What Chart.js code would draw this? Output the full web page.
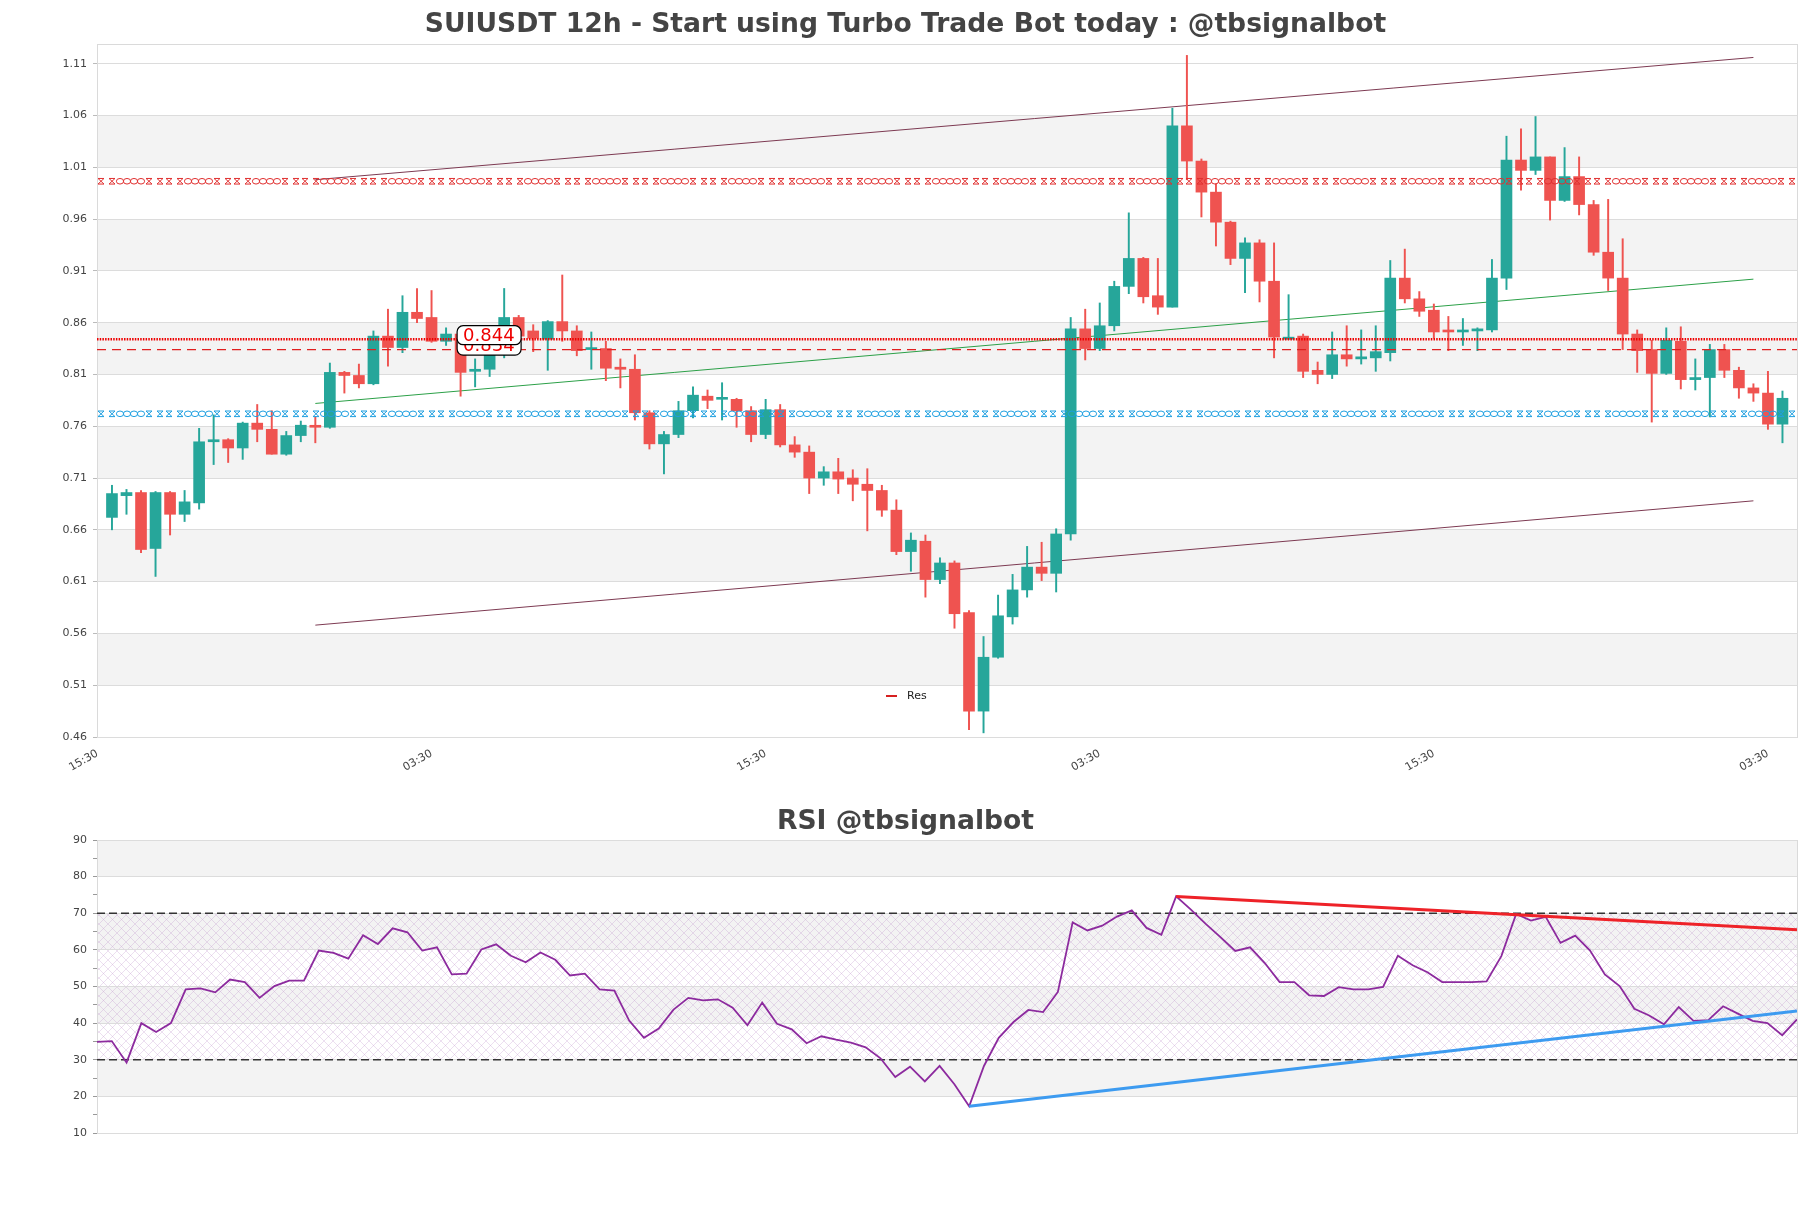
<!DOCTYPE html>
<html>
<head>
<meta charset="utf-8">
<script src="https://cdn.jsdelivr.net/npm/chart.js@4.4.1/dist/chart.umd.min.js"></script>
<style>
    body { margin: 0; background: #fff; }
    .title { position: absolute; left: 0; width: 1811px; text-align: center; font: bold 26.6px 'DejaVu Sans', sans-serif; color: #444; line-height: 30px; }
    .box { position: absolute; left: 0; width: 1811px; }
</style>
</head>
<body>
<div class="box" style="top:0;height:800px"><canvas id="main" width="1811" height="800"></canvas></div>
<div class="box" style="top:780px;height:428px"><canvas id="rsi" width="1811" height="428"></canvas></div>
<div class="title" style="top:8px">SUIUSDT 12h - Start using Turbo Trade Bot today : @tbsignalbot</div>
<div class="title" style="top:805px">RSI @tbsignalbot</div>
<script>
const candleOpen = [
    0.672, 0.693, 0.696, 0.642, 0.696, 0.675, 0.686, 0.745, 0.747, 0.739,
    0.763, 0.757, 0.733, 0.751, 0.760, 0.759, 0.812, 0.809, 0.801, 0.847,
    0.836, 0.870, 0.865, 0.842, 0.849, 0.813, 0.815, 0.829, 0.865, 0.852,
    0.844, 0.861, 0.852, 0.834, 0.835, 0.817, 0.815, 0.773, 0.743, 0.752,
    0.775, 0.789, 0.786, 0.786, 0.775, 0.752, 0.776, 0.742, 0.735, 0.710,
    0.716, 0.710, 0.704, 0.698, 0.679, 0.639, 0.649, 0.612, 0.628, 0.580,
    0.485, 0.537, 0.576, 0.602, 0.624, 0.618, 0.656, 0.854, 0.835, 0.857,
    0.895, 0.922, 0.886, 0.875, 1.050, 1.016, 0.986, 0.957, 0.922, 0.937,
    0.900, 0.844, 0.847, 0.814, 0.810, 0.829, 0.825, 0.826, 0.831, 0.903,
    0.883, 0.872, 0.852, 0.851, 0.852, 0.853, 0.903, 1.017, 1.007, 1.020,
    0.978, 1.001, 0.974, 0.928, 0.903, 0.849, 0.834, 0.811, 0.842, 0.805,
    0.807, 0.834, 0.814, 0.797, 0.792, 0.762
];
const candleHigh = [
    0.703, 0.699, 0.698, 0.697, 0.697, 0.698, 0.758, 0.771, 0.748, 0.764,
    0.781, 0.775, 0.755, 0.765, 0.769, 0.821, 0.813, 0.820, 0.852, 0.873,
    0.886, 0.893, 0.891, 0.855, 0.852, 0.825, 0.857, 0.893, 0.867, 0.858,
    0.862, 0.906, 0.857, 0.851, 0.842, 0.825, 0.829, 0.775, 0.755, 0.784,
    0.798, 0.795, 0.802, 0.787, 0.779, 0.786, 0.781, 0.750, 0.741, 0.721,
    0.729, 0.718, 0.719, 0.703, 0.689, 0.657, 0.655, 0.633, 0.630, 0.582,
    0.557, 0.597, 0.617, 0.644, 0.648, 0.661, 0.865, 0.873, 0.879, 0.900,
    0.966, 0.923, 0.922, 1.067, 1.118, 1.018, 0.994, 0.958, 0.942, 0.940,
    0.937, 0.887, 0.849, 0.822, 0.851, 0.857, 0.853, 0.857, 0.920, 0.931,
    0.890, 0.878, 0.866, 0.864, 0.855, 0.921, 1.040, 1.047, 1.059, 1.020,
    1.029, 1.020, 0.978, 0.979, 0.941, 0.853, 0.843, 0.855, 0.856, 0.825,
    0.839, 0.839, 0.817, 0.801, 0.813, 0.794
];
const candleLow = [
    0.660, 0.675, 0.638, 0.615, 0.655, 0.668, 0.680, 0.723, 0.725, 0.728,
    0.745, 0.733, 0.732, 0.745, 0.744, 0.758, 0.792, 0.797, 0.800, 0.818,
    0.831, 0.860, 0.841, 0.838, 0.789, 0.798, 0.808, 0.826, 0.845, 0.832,
    0.814, 0.842, 0.828, 0.815, 0.804, 0.797, 0.766, 0.738, 0.714, 0.749,
    0.768, 0.777, 0.766, 0.759, 0.745, 0.748, 0.740, 0.730, 0.695, 0.703,
    0.695, 0.688, 0.659, 0.673, 0.636, 0.620, 0.595, 0.608, 0.565, 0.467,
    0.464, 0.536, 0.569, 0.595, 0.611, 0.600, 0.650, 0.824, 0.833, 0.852,
    0.888, 0.879, 0.868, 0.875, 0.998, 0.962, 0.934, 0.916, 0.889, 0.880,
    0.826, 0.844, 0.807, 0.801, 0.806, 0.818, 0.820, 0.813, 0.823, 0.879,
    0.866, 0.845, 0.833, 0.838, 0.833, 0.851, 0.892, 0.988, 1.003, 0.959,
    0.977, 0.964, 0.925, 0.891, 0.834, 0.812, 0.764, 0.810, 0.796, 0.795,
    0.769, 0.807, 0.787, 0.784, 0.757, 0.744
];
const candleClose = [
    0.695, 0.696, 0.641, 0.696, 0.675, 0.687, 0.745, 0.747, 0.739, 0.763,
    0.757, 0.733, 0.751, 0.761, 0.759, 0.812, 0.809, 0.801, 0.847, 0.836,
    0.870, 0.864, 0.842, 0.849, 0.812, 0.815, 0.829, 0.865, 0.847, 0.845,
    0.861, 0.852, 0.833, 0.835, 0.816, 0.815, 0.773, 0.743, 0.752, 0.775,
    0.790, 0.785, 0.787, 0.775, 0.752, 0.776, 0.742, 0.735, 0.710, 0.716,
    0.709, 0.704, 0.698, 0.679, 0.639, 0.650, 0.612, 0.628, 0.579, 0.485,
    0.537, 0.577, 0.602, 0.624, 0.618, 0.656, 0.854, 0.835, 0.857, 0.895,
    0.922, 0.885, 0.875, 1.050, 1.016, 0.986, 0.957, 0.922, 0.937, 0.900,
    0.846, 0.846, 0.813, 0.810, 0.829, 0.825, 0.827, 0.832, 0.903, 0.883,
    0.871, 0.851, 0.851, 0.852, 0.854, 0.903, 1.017, 1.007, 1.020, 0.978,
    1.001, 0.974, 0.928, 0.903, 0.849, 0.833, 0.811, 0.843, 0.805, 0.807,
    0.834, 0.814, 0.797, 0.792, 0.762, 0.787
];
const rsiValues = [
    34.9, 35.1, 29.2, 40.0, 37.6, 40.0, 49.2, 49.5, 48.4, 51.9,
    51.2, 46.9, 50.1, 51.6, 51.6, 59.8, 59.2, 57.6, 64.0, 61.6,
    65.9, 64.8, 59.8, 60.7, 53.3, 53.5, 60.1, 61.5, 58.4, 56.6,
    59.3, 57.3, 53.0, 53.5, 49.2, 48.9, 40.7, 36.0, 38.5, 43.7,
    46.9, 46.2, 46.5, 44.2, 39.4, 45.6, 39.8, 38.3, 34.5, 36.4,
    35.5, 34.7, 33.4, 30.4, 25.3, 28.1, 24.1, 28.3, 23.3, 17.3,
    28.3, 36.0, 40.3, 43.6, 43.0, 48.5, 67.5, 65.3, 66.6, 69.1,
    70.8, 66.0, 64.1, 74.6, 71.0, 67.1, 63.5, 59.7, 60.7, 56.4,
    51.2, 51.2, 47.6, 47.4, 49.8, 49.2, 49.2, 49.9, 58.4, 55.8,
    53.9, 51.2, 51.2, 51.2, 51.4, 58.3, 69.8, 68.0, 69.0, 61.9,
    63.9, 59.8, 53.3, 50.1, 43.9, 42.1, 39.7, 44.4, 40.6, 40.8,
    44.6, 42.6, 40.6, 40.0, 36.7, 41.0
];

const xTickIndex = [-1, 22, 45, 68, 91, 114];
const xTickText = ['15:30', '03:30', '15:30', '03:30', '15:30', '03:30'];
const priceTicks = [0.46, 0.51, 0.56, 0.61, 0.66, 0.71, 0.76, 0.81, 0.86, 0.91, 0.96, 1.01, 1.06, 1.11];
const priceBands = [0.51, 0.61, 0.71, 0.81, 0.91, 1.01];
const rsiBands = [20, 40, 60, 80];

// trend lines as [index, price] pairs
const channelUpper = [[14, 0.998], [113, 1.116]];
const channelLower = [[14, 0.568], [113, 0.688]];
const channelMid = [[14, 0.782], [113, 0.902]];
const resLevels = [0.844, 0.834];
const chainRed = 0.9965;
const chainBlue = 0.772;
const rsiDownTrend = [[73, 74.6], [115, 65.5]];
const rsiUpTrend = [[59, 17.3], [115, 43.3]];

const UP = '#26a69a';
const DOWN = '#ef5350';

Chart.defaults.font.family = "'DejaVu Sans', sans-serif";
Chart.defaults.font.size = 11;
Chart.defaults.color = '#444';

const toPoints = (pairs) => pairs.map(([x, y]) => ({ x, y }));

function drawChain(ctx, area, y, color) {
    ctx.save();
    ctx.beginPath();
    ctx.rect(area.left, area.top, area.right - area.left, area.bottom - area.top);
    ctx.clip();
    ctx.strokeStyle = color;
    ctx.lineWidth = 1;
    const w = 3, h = 2.8;
    const cross = (cx) => {
        ctx.beginPath();
        ctx.moveTo(cx - w, y - h); ctx.lineTo(cx + w, y - h);
        ctx.moveTo(cx - w, y + h); ctx.lineTo(cx + w, y + h);
        ctx.moveTo(cx - w, y - h); ctx.lineTo(cx + w, y + h);
        ctx.moveTo(cx + w, y - h); ctx.lineTo(cx - w, y + h);
        ctx.stroke();
    };
    for (let x0 = area.left + 16; x0 - 68 < area.right; x0 += 68) {
        cross(x0 - 12);
        cross(x0 - 1);
        for (let k = 0; k < 4; k++) {
            ctx.beginPath();
            ctx.ellipse(x0 + 7 + k * 7, y, 3.6, h, 0, 0, Math.PI * 2);
            ctx.stroke();
        }
        cross(x0 + 36);
        cross(x0 + 47);
    }
    ctx.restore();
}

const mainDecor = {
    id: 'mainDecor',
    beforeDraw(chart) {
        const { ctx, chartArea: a, scales: { y } } = chart;
        ctx.save();
        ctx.fillStyle = '#f3f3f3';
        priceBands.forEach((lo) => {
            const top = y.getPixelForValue(lo + 0.05);
            const bottom = y.getPixelForValue(lo);
            ctx.fillRect(a.left, top, a.right - a.left, bottom - top);
        });
        ctx.strokeStyle = '#dadada';
        ctx.lineWidth = 1;
        ctx.strokeRect(a.left + 0.5, a.top + 0.5, a.right - a.left, a.bottom - a.top);
        ctx.restore();
    },
    afterDatasetsDraw(chart) {
        const { ctx, chartArea: a, scales: { y } } = chart;
        ctx.save();
        ctx.strokeStyle = '#ee0000';
        ctx.lineWidth = 2.6;
        ctx.setLineDash([1.5, 1.2]);
        let py = y.getPixelForValue(resLevels[0]);
        ctx.beginPath(); ctx.moveTo(a.left, py); ctx.lineTo(a.right, py); ctx.stroke();
        ctx.strokeStyle = '#e02020';
        ctx.lineWidth = 1.2;
        ctx.setLineDash([9, 6]);
        py = y.getPixelForValue(resLevels[1]);
        ctx.beginPath(); ctx.moveTo(a.left, py); ctx.lineTo(a.right, py); ctx.stroke();
        ctx.restore();
        drawChain(ctx, a, y.getPixelForValue(chainRed), '#e03030');
        drawChain(ctx, a, y.getPixelForValue(chainBlue), '#1e9fe0');
    },
    afterDraw(chart) {
        const { ctx, chartArea: a, scales: { x, y } } = chart;
        ctx.save();
        ctx.font = "18px 'DejaVu Sans', sans-serif";
        ctx.textBaseline = 'middle';
        [resLevels[1], resLevels[0]].forEach((lvl) => {
            const cy = y.getPixelForValue(lvl) - 4;
            const left = x.getPixelForValue(23.76);
            ctx.beginPath();
            ctx.roundRect(left, cy - 9.5, 64, 19, 6);
            ctx.fillStyle = '#fff';
            ctx.fill();
            ctx.strokeStyle = '#000';
            ctx.lineWidth = 1.2;
            ctx.stroke();
            ctx.fillStyle = '#ee0000';
            ctx.fillText(lvl.toFixed(3), left + 6, cy + 1);
        });
        // legend
        const lx = a.left + 789;
        const ly = a.bottom - 41;
        ctx.strokeStyle = '#d62020';
        ctx.lineWidth = 2;
        ctx.beginPath(); ctx.moveTo(lx, ly); ctx.lineTo(lx + 11, ly); ctx.stroke();
        ctx.font = "11px 'DejaVu Sans', sans-serif";
        ctx.fillStyle = '#222';
        ctx.fillText('Res', lx + 21, ly);
        ctx.restore();
    }
};

const bodyColors = candleOpen.map((o, i) => (candleClose[i] >= o ? UP : DOWN));

new Chart(document.getElementById('main'), {
    data: {
        datasets: [
            {
                type: 'bar',
                data: candleOpen.map((o, i) => ({ x: i, y: [o, candleClose[i]] })),
                backgroundColor: bodyColors,
                barThickness: 11,
                minBarLength: 2,
                grouped: false,
            },
            {
                type: 'bar',
                data: candleLow.map((l, i) => ({ x: i, y: [l, candleHigh[i]] })),
                backgroundColor: bodyColors,
                barThickness: 1.3,
                grouped: false,
            },
            { type: 'line', data: toPoints(channelUpper), borderColor: '#7d3a52', borderWidth: 1, pointRadius: 0 },
            { type: 'line', data: toPoints(channelLower), borderColor: '#7d3a52', borderWidth: 1, pointRadius: 0 },
            { type: 'line', data: toPoints(channelMid), borderColor: '#2ca048', borderWidth: 1, pointRadius: 0 },
        ],
    },
    options: {
        responsive: false,
        animation: false,
        layout: { padding: { top: 44, right: 14, left: 0, bottom: 0 } },
        plugins: { legend: { display: false }, tooltip: { enabled: false } },
        scales: {
            x: {
                type: 'linear',
                min: -1.03,
                max: 116,
                offset: false,
                grid: { display: false },
                border: { display: false },
                afterBuildTicks: (scale) => { scale.ticks = xTickIndex.map((v) => ({ value: v })); },
                afterFit: (scale) => { scale.height = 63; },
                ticks: {
                    autoSkip: false,
                    minRotation: 30,
                    maxRotation: 30,
                    padding: 2,
                    callback: (v) => xTickText[xTickIndex.indexOf(v)],
                },
            },
            y: {
                min: 0.46,
                max: 1.129,
                grid: { color: '#dcdcdc', tickLength: 4, tickColor: '#bbb' },
                border: { display: false },
                afterBuildTicks: (scale) => { scale.ticks = priceTicks.map((v) => ({ value: v })); },
                afterFit: (scale) => { scale.width = 97; },
                ticks: { padding: 6, callback: (v) => v.toFixed(2) },
            },
        },
    },
    plugins: [mainDecor],
});

function hatchPattern(ctx) {
    const c = document.createElement('canvas');
    c.width = 9; c.height = 9;
    const p = c.getContext('2d');
    p.strokeStyle = 'rgba(185, 140, 200, 0.35)';
    p.lineWidth = 0.8;
    p.beginPath();
    p.moveTo(0, 0); p.lineTo(9, 9);
    p.moveTo(9, 0); p.lineTo(0, 9);
    p.stroke();
    return ctx.createPattern(c, 'repeat');
}

const rsiDecor = {
    id: 'rsiDecor',
    beforeDraw(chart) {
        const { ctx, chartArea: a, scales: { y } } = chart;
        ctx.save();
        ctx.fillStyle = '#f3f3f3';
        rsiBands.forEach((lo) => {
            const top = y.getPixelForValue(lo + 10);
            const bottom = y.getPixelForValue(lo);
            ctx.fillRect(a.left, top, a.right - a.left, bottom - top);
        });
        const t = y.getPixelForValue(70);
        const b = y.getPixelForValue(30);
        ctx.fillStyle = hatchPattern(ctx);
        ctx.fillRect(a.left, t, a.right - a.left, b - t);
        ctx.strokeStyle = '#dadada';
        ctx.lineWidth = 1;
        ctx.strokeRect(a.left + 0.5, a.top + 0.5, a.right - a.left, a.bottom - a.top);
        ctx.restore();
    },
    beforeDatasetsDraw(chart) {
        const { ctx, chartArea: a, scales: { y } } = chart;
        ctx.save();
        ctx.strokeStyle = '#333';
        ctx.lineWidth = 1.3;
        ctx.setLineDash([8, 4]);
        [70, 30].forEach((v) => {
            const py = y.getPixelForValue(v);
            ctx.beginPath(); ctx.moveTo(a.left, py); ctx.lineTo(a.right, py); ctx.stroke();
        });
        ctx.restore();
    },
};

new Chart(document.getElementById('rsi'), {
    type: 'line',
    data: {
        datasets: [
            { data: toPoints(rsiDownTrend), borderColor: '#ee2228', borderWidth: 3, pointRadius: 0 },
            { data: toPoints(rsiUpTrend), borderColor: '#3d9bf0', borderWidth: 3, pointRadius: 0 },
            { data: rsiValues.map((v, i) => ({ x: i, y: v })), borderColor: '#8c2a9e', borderWidth: 1.8, pointRadius: 0 },
        ],
    },
    options: {
        responsive: false,
        animation: false,
        layout: { padding: { top: 60, right: 14, left: 0, bottom: 75 } },
        plugins: { legend: { display: false }, tooltip: { enabled: false } },
        scales: {
            x: { type: 'linear', min: 0, max: 115, display: false },
            y: {
                min: 10,
                max: 90,
                border: { display: false },
                grid: {
                    color: (c) => (c.tick && c.tick.value % 10 === 0 ? '#dcdcdc' : 'rgba(0,0,0,0)'),
                    tickColor: '#999',
                    tickLength: 4,
                },
                afterFit: (scale) => { scale.width = 97; },
                ticks: {
                    stepSize: 5,
                    padding: 6,
                    autoSkip: false,
                    callback: (v) => (v % 10 === 0 ? String(v) : ''),
                },
            },
        },
    },
    plugins: [rsiDecor],
});
</script>
</body>
</html>
